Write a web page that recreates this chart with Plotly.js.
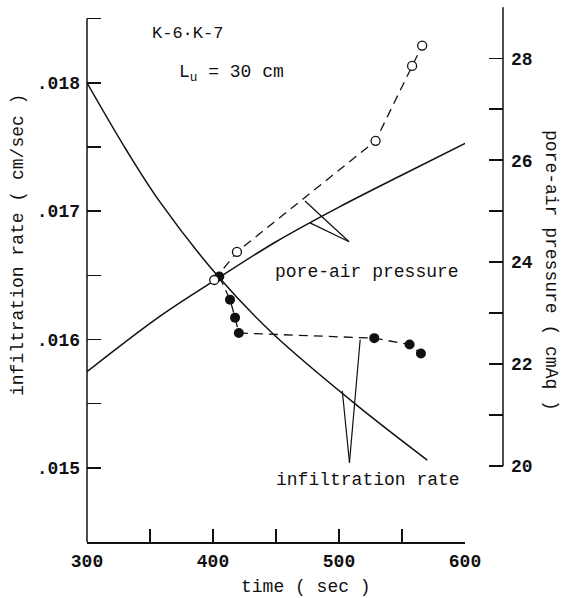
<!DOCTYPE html>
<html>
<head>
<meta charset="utf-8">
<script src="https://cdn.plot.ly/plotly-3.0.1.min.js"></script>
<style>html,body{margin:0;padding:0;background:#fff;}#chart{width:561px;height:598px;}</style>
</head>
<body>
<div id="chart"></div>
<script>
// ---- data ----
const timeInfilCurve = [300, 331, 358, 405, 448, 515, 570];
const infilCurve = [0.01800, 0.01748, 0.01707, 0.01648, 0.01604, 0.01548, 0.01506];

const timePressureCurve = [300, 358, 405, 450, 500, 550, 600];
const pressureCurve = [21.85, 22.94, 23.70, 24.40, 25.08, 25.71, 26.33];

const timePressureObs = [401, 419, 529, 558, 566];
const pressureObs = [23.65, 24.2, 26.38, 27.85, 28.25];

const timeInfilObs = [405, 413.5, 417.5, 420.5, 528, 556, 565];
const infilObs = [0.01649, 0.01631, 0.01617, 0.01605, 0.01601, 0.01596, 0.01589];

const xTickVals = [300, 400, 500, 600];
const xTickText = ['300', '400', '500', '600'];
const xMinorVals = [350, 450, 550];
const yTickVals = [0.015, 0.016, 0.017, 0.018];
const yTickText = ['.015', '.016', '.017', '.018'];
const yMinorVals = [0.0155, 0.0165, 0.0175, 0.0185];
const y2TickVals = [20, 22, 24, 26, 28];
const y2TickText = ['20', '22', '24', '26', '28'];
const y2MinorVals = [21, 23, 25, 27, 29];

const FONT = 'Liberation Mono, Courier New, monospace';
const BLACK = '#111';

const traces = [
  {x: timeInfilCurve, y: infilCurve, yaxis: 'y', mode: 'lines',
   line: {color: BLACK, width: 1.5, shape: 'spline'}, hoverinfo: 'skip'},
  {x: timePressureCurve, y: pressureCurve, yaxis: 'y2', mode: 'lines',
   line: {color: BLACK, width: 1.5, shape: 'spline'}, hoverinfo: 'skip'},
  {x: timePressureObs, y: pressureObs, yaxis: 'y2', mode: 'lines+markers',
   line: {color: BLACK, width: 1.3, dash: '9px,6px'},
   marker: {symbol: 'circle', size: 9, color: '#fff', line: {width: 1.3, color: BLACK}}},
  {x: timeInfilObs, y: infilObs, yaxis: 'y', mode: 'lines+markers',
   line: {color: BLACK, width: 1.3, dash: '9px,6px'},
   marker: {symbol: 'circle', size: 10, color: BLACK}}
];

function tickStyle(len) {
  return {ticks: 'inside', ticklen: len, tickwidth: 1.5, tickcolor: BLACK};
}
const TICKFONT = {family: FONT, size: 18, color: BLACK, weight: 'bold'};

const layout = {
  width: 561, height: 598,
  margin: {l: 87, r: 58, t: 7, b: 56},
  paper_bgcolor: '#fff', plot_bgcolor: '#fff',
  showlegend: false,
  font: {family: FONT, size: 18, color: BLACK},
  xaxis: Object.assign({
    domain: [0, 0.9087], range: [300, 600], anchor: 'y',
    tickmode: 'array', tickvals: xTickVals, ticktext: xTickText,
    minor: Object.assign({tickmode: 'array', tickvals: xMinorVals}, tickStyle(13)),
    showline: true, linewidth: 1.5, linecolor: BLACK,
    showgrid: false, zeroline: false, ticklabelstandoff: 2,
    tickfont: TICKFONT
  }, tickStyle(13)),
  yaxis: Object.assign({
    range: [0.0144216, 0.0185905], anchor: 'x',
    tickmode: 'array', tickvals: yTickVals, ticktext: yTickText,
    minor: Object.assign({tickmode: 'array', tickvals: yMinorVals}, tickStyle(14)),
    showline: false, showgrid: false, zeroline: false, ticklabelstandoff: 6,
    tickfont: TICKFONT
  }, tickStyle(14)),
  yaxis2: Object.assign({
    range: [18.509, 29.006], overlaying: 'y', side: 'right', anchor: 'free', position: 1,
    tickmode: 'array', tickvals: y2TickVals, ticktext: y2TickText,
    minor: Object.assign({tickmode: 'array', tickvals: y2MinorVals}, tickStyle(14)),
    showline: false, showgrid: false, zeroline: false, ticklabelstandoff: 7,
    tickfont: TICKFONT
  }, tickStyle(14)),
  shapes: [
    {type: 'line', xref: 'paper', yref: 'y', x0: 0, x1: 0, y0: 0.0144216, y1: 0.0185,
     line: {color: BLACK, width: 1.5}},
    {type: 'line', xref: 'paper', yref: 'y2', x0: 1, x1: 1, y0: 20, y1: 29,
     line: {color: BLACK, width: 1.5}},
    // leader lines for "pore-air pressure"
    {type: 'line', xref: 'x', yref: 'y2', x0: 473, y0: 25.2, x1: 508, y1: 24.4, line: {color: BLACK, width: 1.2}},
    {type: 'line', xref: 'x', yref: 'y2', x0: 477, y0: 24.77, x1: 508, y1: 24.4, line: {color: BLACK, width: 1.2}},
    // leader lines for "infiltration rate"
    {type: 'line', xref: 'x', yref: 'y', x0: 502.6, y0: 0.01560, x1: 508.3, y1: 0.01504, line: {color: BLACK, width: 1.2}},
    {type: 'line', xref: 'x', yref: 'y', x0: 516.8, y0: 0.01600, x1: 508.3, y1: 0.01504, line: {color: BLACK, width: 1.2}}
  ],
  annotations: [
    {text: 'time ( sec )', xref: 'paper', yref: 'paper', x: 0.5264, y: -0.0841,
     xanchor: 'center', yanchor: 'middle', showarrow: false, font: {size: 18}},
    {text: 'infiltration rate ( cm/sec )', xref: 'paper', yref: 'paper', x: -0.1659, y: 0.555,
     xanchor: 'center', yanchor: 'middle', textangle: -90, showarrow: false, font: {size: 18}},
    {text: 'pore-air pressure ( cmAq )', xref: 'paper', yref: 'paper', x: 1.1154, y: 0.5084,
     xanchor: 'center', yanchor: 'middle', textangle: 90, showarrow: false, font: {size: 18}},
    {text: 'K-6·K-7', xref: 'paper', yref: 'paper', x: 0.1514, y: 0.9514,
     xanchor: 'left', yanchor: 'middle', showarrow: false, font: {size: 17}},
    {text: 'L<sub>u</sub> = 30 cm', xref: 'paper', yref: 'paper', x: 0.2163, y: 0.8766,
     xanchor: 'left', yanchor: 'middle', showarrow: false, font: {size: 18}},
    {text: 'pore-air pressure', xref: 'paper', yref: 'paper', x: 0.899, y: 0.5047,
     xanchor: 'right', yanchor: 'middle', showarrow: false, font: {size: 18}},
    {text: 'infiltration rate', xref: 'paper', yref: 'paper', x: 0.9014, y: 0.1159,
     xanchor: 'right', yanchor: 'middle', showarrow: false, font: {size: 18}}
  ]
};

Plotly.newPlot('chart', traces, layout, {staticPlot: true, displayModeBar: false});
</script>
</body>
</html>
